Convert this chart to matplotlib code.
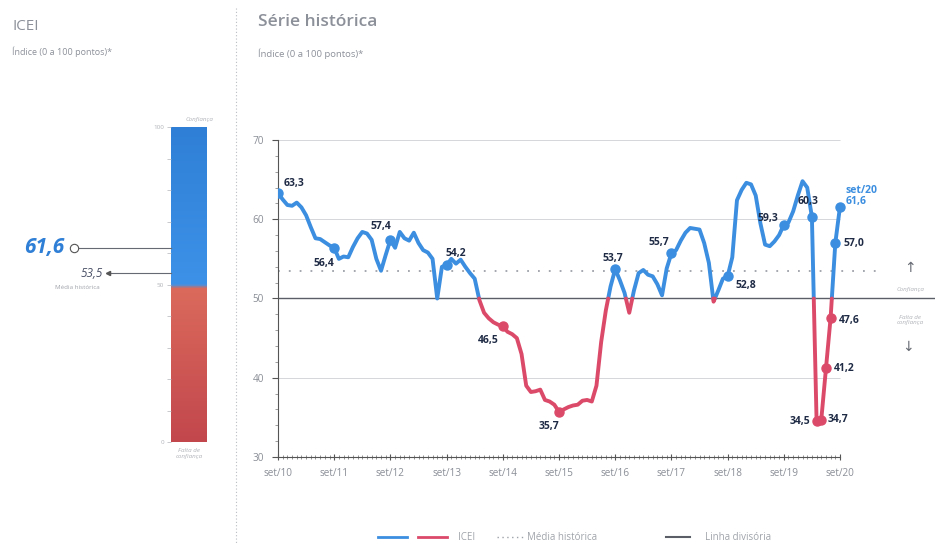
import numpy as np
import matplotlib

matplotlib.use("Agg")
import matplotlib.pyplot as plt
from matplotlib.colors import LinearSegmentedColormap

plt.rcParams["font.family"] = ["Open Sans", "DejaVu Sans"]

# ICEI monthly series, set/10 .. set/20
icei = [
    63.3, 62.5, 61.8, 61.7, 62.1, 61.5, 60.5, 59.0, 57.6, 57.5, 57.1, 56.7,
    56.4, 55.0, 55.3, 55.2, 56.5, 57.6, 58.4, 58.2, 57.4, 55.0, 53.5, 55.5,
    57.4, 56.4, 58.4, 57.6, 57.3, 58.3, 57.0, 56.1, 55.8, 55.0, 50.0, 54.0,
    54.2, 55.0, 54.4, 54.9, 54.0, 53.2, 52.5, 49.8, 48.2, 47.5, 47.0, 46.7,
    46.5, 45.8, 45.5, 45.0, 43.0, 39.0, 38.2, 38.3, 38.5, 37.2, 37.0, 36.6,
    35.7, 36.0, 36.3, 36.5, 36.6, 37.1, 37.2, 37.0, 39.0, 44.5, 48.5, 51.5,
    53.7, 52.3, 50.7, 48.2, 51.0, 53.2, 53.6, 53.0, 52.8, 51.8, 50.4, 53.8,
    55.7, 56.1, 57.3, 58.3, 58.9, 58.8, 58.7, 57.0, 54.5, 49.6, 51.0, 52.5,
    52.8, 55.2, 62.4, 63.7, 64.6, 64.4, 63.0, 59.5, 56.8, 56.6, 57.2, 58.0,
    59.3, 59.6, 61.0, 63.0, 64.8, 64.0, 60.3, 34.5, 34.7, 41.2, 47.6, 57.0,
    61.6,
]
year_labels = ["set/10", "set/11", "set/12", "set/13", "set/14", "set/15",
               "set/16", "set/17", "set/18", "set/19", "set/20"]
media_historica = 53.5
linha_divisoria = 50.0
current_value = 61.6

# labelled points: month index -> (dx px, dy px, ha)
labelled = {
    0: (5, 9, "left"), 12: (-10, -15, "center"), 24: (-9, 13, "center"),
    36: (9, 11, "center"), 48: (-14, -14, "center"), 60: (-10, -14, "center"),
    72: (-2, 10, "center"), 84: (-12, 10, "center"), 96: (8, -9, "left"),
    108: (-5, 6, "right"), 114: (-4, 15, "center"), 115: (-6, 0, "right"),
    116: (6, 0, "left"), 117: (8, 0, "left"), 118: (8, -3, "left"),
    119: (8, 0, "left"),
}

BLUE = "#3b8ee0"
RED = "#dc4a6a"
DARK = "#1f2b45"
GRAY = "#9a9ea6"

W, H = 941, 543
fig = plt.figure(figsize=(W / 100, H / 100), dpi=100)


def fx(x):
    return x / W


def fy(y):
    return 1 - y / H


def fmt(v):
    return f"{v:.1f}".replace(".", ",")


# ---- left panel: gauge bar ----
fig.text(fx(12), fy(27), "ICEI", fontsize=11, color="#8c9099", va="center")
fig.text(fx(12), fy(52), "Índice (0 a 100 pontos)*", fontsize=6.5, color="#8c9099", va="center")

axb = fig.add_axes([fx(171), fy(442), fx(207 - 171), (442 - 127) / H])
cmap = LinearSegmentedColormap.from_list(
    "gauge", [(0, "#c2474d"), (0.49, "#db6a5c"), (0.5, "#3d92e8"), (1, "#2f7fd6")]
)
grad = np.linspace(0, 100, 200).reshape(-1, 1)
axb.imshow(grad, extent=(0, 1, 0, 100), origin="lower", aspect="auto", cmap=cmap, vmin=0, vmax=100)
axb.set_xlim(0, 1)
axb.set_ylim(0, 100)
axb.set_xticks([])
axb.set_yticks([0, 50, 100])
axb.set_yticklabels(["0", "50", "100"], fontsize=4.5, color="#b0b3b8")
axb.set_yticks(np.arange(0, 101, 10), minor=True)
axb.tick_params(axis="y", which="both", length=3, width=0.5, color="#b0b3b8", pad=2)
for s in axb.spines.values():
    s.set_visible(False)
axb.text(0.8, 101.5, "Confiança", fontsize=4.5, color="#b0b3b8", style="italic",
         ha="center", va="bottom")
axb.text(0.5, -2, "Falta de\nconfiança", fontsize=4.5, color="#b0b3b8", style="italic",
         ha="center", va="top")

tr = axb.get_yaxis_transform()
axb.plot([-2.62, 0], [current_value, current_value], color="#666a72", lw=0.8,
         transform=tr, clip_on=False)
axb.plot([-2.7], [current_value], marker="o", ms=6, mfc="white", mec="#555",
         mew=0.8, transform=tr, clip_on=False)
axb.text(-2.95, current_value, fmt(current_value), fontsize=15, fontweight="bold",
         style="italic", color="#2f7fd6", ha="right", va="center", transform=tr)
axb.plot([-1.7, 0], [media_historica, media_historica], color="#666a72", lw=0.8,
         transform=tr, clip_on=False)
axb.plot([-1.75], [media_historica], marker="<", ms=3, color="#555", transform=tr,
         clip_on=False)
axb.text(-1.9, media_historica, fmt(media_historica), fontsize=8.5, style="italic",
         color="#4a5066", ha="right", va="center", transform=tr)
axb.text(-2.6, media_historica - 4.3, "Média histórica", fontsize=4.5, color="#a0a4aa",
         ha="center", va="center", transform=tr)

# dotted separator
fig.add_artist(plt.Line2D([fx(236), fx(236)], [fy(8), fy(543)], color="#b9bcc2",
                          lw=0.8, ls=(0, (1, 2))))

# ---- right panel: historical series ----
fig.text(fx(258), fy(22), "Série histórica", fontsize=12.5, fontweight="semibold",
         color="#8c9099", va="center")
fig.text(fx(258), fy(54), "Índice (0 a 100 pontos)*", fontsize=6.8, color="#8c9099", va="center")

n = len(icei)
x0_px, x1_px, xr_px = 278, 840, 935
ax = fig.add_axes([fx(x0_px), fy(457), fx(xr_px - x0_px), (457 - 140) / H])
ax.set_xlim(0, (n - 1) * (xr_px - x0_px) / (x1_px - x0_px))
ax.set_ylim(30, 70)

for g in (70, 60, 40):
    ax.hlines(g, 0, n - 1, color="#d4d6da", lw=0.7, zorder=1)
ax.axhline(linha_divisoria, color="#5b5e66", lw=1.0, zorder=1)
ax.hlines(media_historica, 0, 129, color="#9da1a8", lw=1.3, ls=(0, (1, 5)), zorder=1)

# split the series at the 50-point divide
m = np.arange(n, dtype=float)
v = np.array(icei, dtype=float)
xs, ys = [m[0]], [v[0]]
for i in range(1, n):
    a, b = v[i - 1], v[i]
    if (a - linha_divisoria) * (b - linha_divisoria) < 0:
        t = (linha_divisoria - a) / (b - a)
        xs.append(m[i - 1] + t)
        ys.append(linha_divisoria)
    xs.append(m[i])
    ys.append(b)
xs, ys = np.array(xs), np.array(ys)
ax.plot(xs, np.where(ys >= linha_divisoria, ys, np.nan), color=BLUE, lw=2.8,
        solid_capstyle="round", solid_joinstyle="round", zorder=3)
ax.plot(xs, np.where(ys <= linha_divisoria, ys, np.nan), color=RED, lw=2.8,
        solid_capstyle="round", solid_joinstyle="round", zorder=3)

for i, (dx, dy, ha) in labelled.items():
    val = icei[i]
    c = BLUE if val >= linha_divisoria else RED
    ax.plot(i, val, "o", ms=6.5, color=c, zorder=4)
    ax.annotate(fmt(val), (i, val), xytext=(dx * 0.75, dy * 0.75), textcoords="offset points",
                ha=ha, va="center", fontsize=7.5, fontweight="bold", color=DARK, zorder=5)
ax.plot(n - 1, icei[-1], "o", ms=6.5, color=BLUE, zorder=4)
ax.annotate(f"{year_labels[-1]}\n{fmt(icei[-1])}", (n - 1, icei[-1]), xytext=(4, 0),
            textcoords="offset points", ha="left", va="bottom", fontsize=7.5,
            fontweight="bold", color=BLUE, linespacing=0.95)

ax.set_yticks([30, 40, 50, 60, 70])
ax.set_yticklabels(["30", "40", "50", "60", "70"])
ax.set_yticks(np.arange(30, 71, 2), minor=True)
ax.set_xticks(np.arange(0, n, 12))
ax.set_xticklabels(year_labels)
ax.set_xticks(np.arange(0, n), minor=True)
ax.tick_params(axis="both", which="major", labelsize=7.2, labelcolor="#8a8e96",
               color="#555", width=0.8)
ax.tick_params(axis="x", which="major", length=4, direction="inout", pad=6)
ax.tick_params(axis="x", which="minor", length=2.5, direction="inout", width=0.5, color="#666")
ax.tick_params(axis="y", which="major", length=4, pad=6)
ax.tick_params(axis="y", which="minor", length=2, width=0.5, color="#777")
for s in ("top", "right"):
    ax.spines[s].set_visible(False)
ax.spines["bottom"].set_bounds(0, n - 1)
ax.spines["left"].set_color("#555")
ax.spines["bottom"].set_color("#555")
ax.patch.set_alpha(0)

# confidence side markers
fig.text(fx(910), fy(268), "↑", fontsize=10, color="#666a72", ha="center", va="center")
fig.text(fx(910), fy(289), "Confiança", fontsize=4.5, color="#b0b3b8", style="italic",
         ha="center", va="center")
fig.text(fx(910), fy(320), "Falta de\nconfiança", fontsize=4.5, color="#b0b3b8",
         style="italic", ha="center", va="center")
fig.text(fx(908), fy(347), "↓", fontsize=10, color="#666a72", ha="center", va="center")

# legend
ly = fy(537)
fig.add_artist(plt.Line2D([fx(378), fx(407)], [ly, ly], color=BLUE, lw=2))
fig.add_artist(plt.Line2D([fx(418), fx(447)], [ly, ly], color=RED, lw=2))
fig.text(fx(458), ly, "ICEI", fontsize=7, color="#a0a4aa", va="center")
fig.add_artist(plt.Line2D([fx(497), fx(523)], [ly, ly], color="#9da1a8", lw=1,
                          ls=(0, (1, 2.5))))
fig.text(fx(527), ly, "Média histórica", fontsize=7, color="#a0a4aa", va="center")
fig.add_artist(plt.Line2D([fx(666), fx(690)], [ly, ly], color="#5b5e66", lw=1.5))
fig.text(fx(705), ly, "Linha divisória", fontsize=7, color="#a0a4aa", va="center")

fig.savefig("out.png", dpi=100)
